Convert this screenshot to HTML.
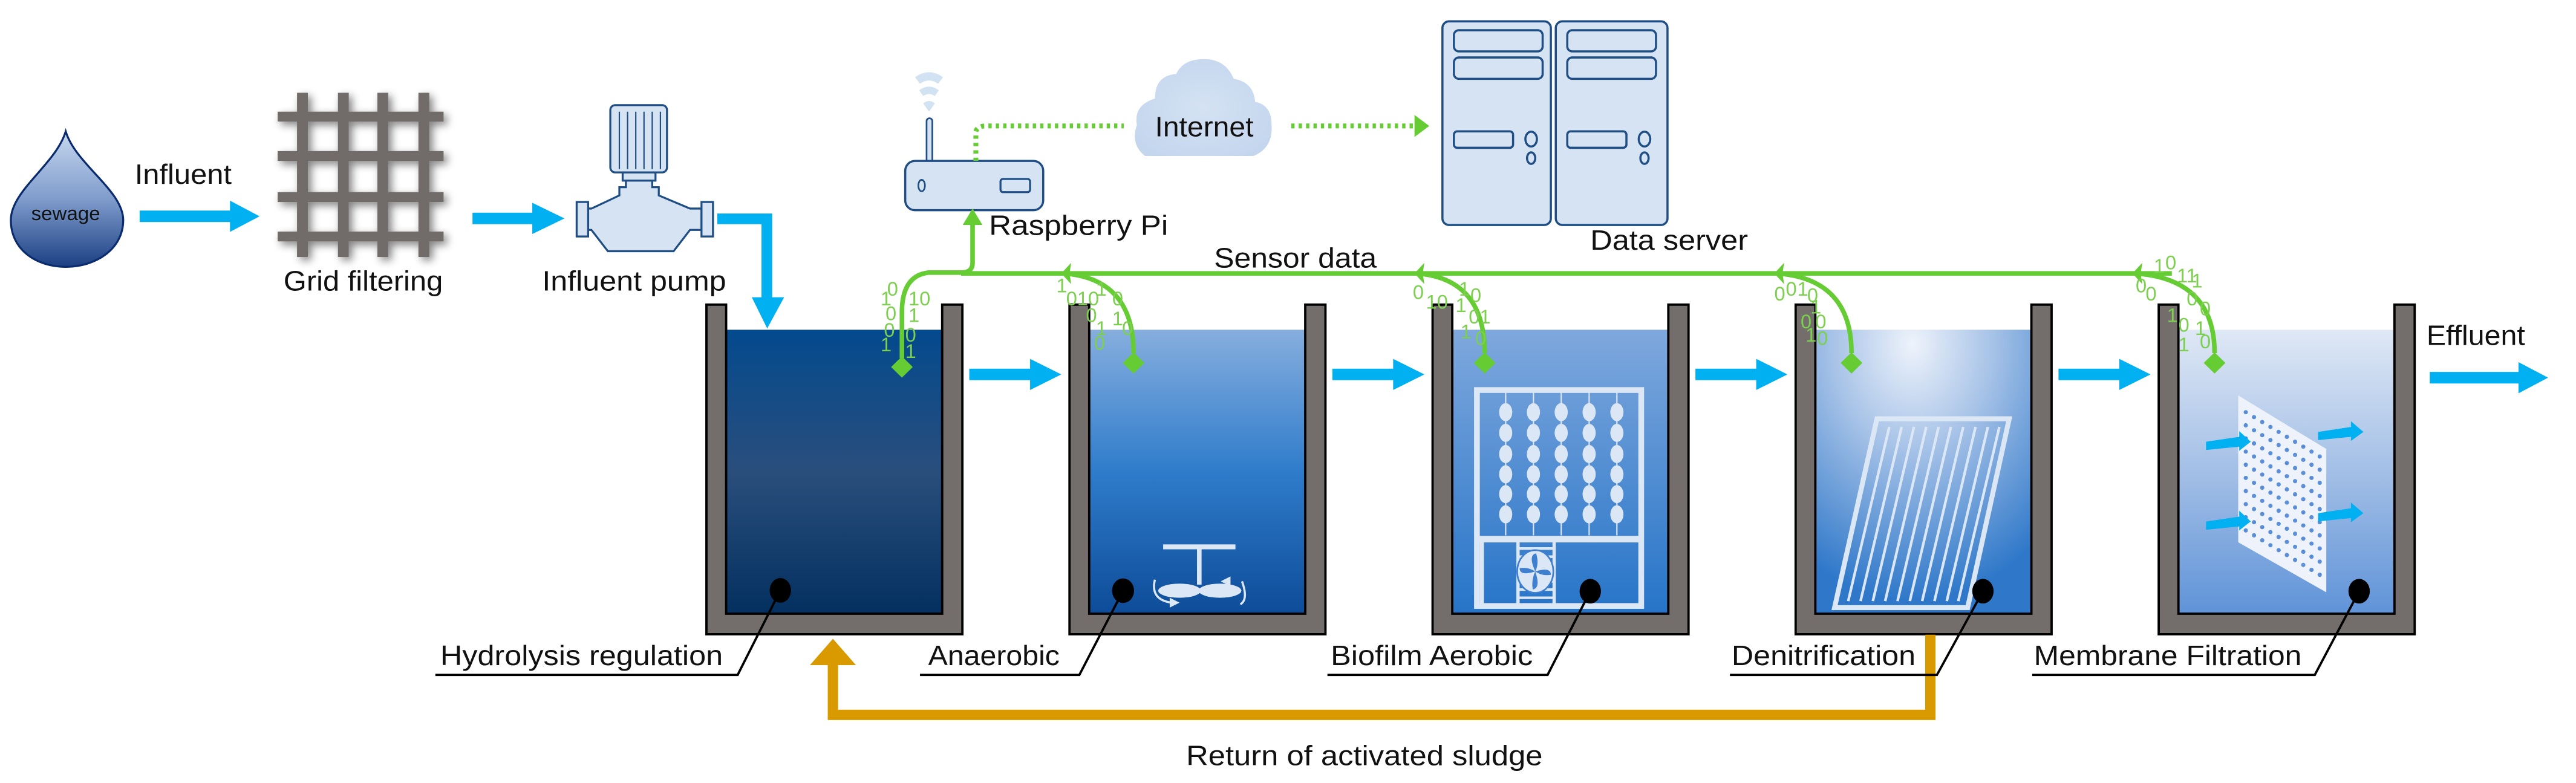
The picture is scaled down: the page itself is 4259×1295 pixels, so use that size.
<!DOCTYPE html>
<html><head><meta charset="utf-8"><style>
html,body{margin:0;padding:0;background:#fff;}
svg{display:block;}
text{font-family:"Liberation Sans",Arial,sans-serif;fill:#111;}
.b{font-size:12px;fill:#7ccf4f;}
</style></head><body>
<svg width="4259" height="1295" viewBox="0 0 1568 476.8" preserveAspectRatio="none" xmlns="http://www.w3.org/2000/svg">
<defs>
<linearGradient id="drop" x1="0" y1="0" x2="0" y2="1"><stop offset="0" stop-color="#c7d8ef"/><stop offset="0.5" stop-color="#7f9ccc"/><stop offset="1" stop-color="#1b3f82"/></linearGradient>
<linearGradient id="t1" x1="0" y1="0" x2="0" y2="1"><stop offset="0" stop-color="#034a8e"/><stop offset="0.5" stop-color="#2a4e7c"/><stop offset="1" stop-color="#03305f"/></linearGradient>
<linearGradient id="t2" x1="0" y1="0" x2="0" y2="1"><stop offset="0" stop-color="#86aede"/><stop offset="0.5" stop-color="#2f7ccb"/><stop offset="1" stop-color="#0d4c98"/></linearGradient>
<linearGradient id="t3" x1="0" y1="0" x2="0" y2="1"><stop offset="0" stop-color="#7fa8dd"/><stop offset="1" stop-color="#2674c8"/></linearGradient>
<radialGradient id="t4" cx="0.45" cy="0.05" r="0.9"><stop offset="0" stop-color="#eef3fb"/><stop offset="0.4" stop-color="#a9c4e8"/><stop offset="1" stop-color="#2f78c9"/></radialGradient>
<linearGradient id="t5" x1="0" y1="0" x2="0" y2="1"><stop offset="0" stop-color="#dfe8f5"/><stop offset="0.5" stop-color="#a3bfe6"/><stop offset="1" stop-color="#5f93d8"/></linearGradient>
<filter id="sh" x="-20%" y="-20%" width="140%" height="140%"><feGaussianBlur in="SourceAlpha" stdDeviation="2.5"/><feOffset dx="2" dy="2"/><feComponentTransfer><feFuncA type="linear" slope="0.5"/></feComponentTransfer><feMerge><feMergeNode/><feMergeNode in="SourceGraphic"/></feMerge></filter>
<radialGradient id="cl" cx="0.5" cy="0.5" r="0.6"><stop offset="0" stop-color="#d4e2f3"/><stop offset="1" stop-color="#c4d6ee"/></radialGradient>
</defs>

<path d="M40,80 C46,100 75,116 75,134 C75,152 58,162.5 40,162.5 C22,162.5 6.6,152 6.6,134 C6.6,116 34,100 40,80 Z" fill="url(#drop)" stroke="#0a2a6e" stroke-width="1.2"/>
<text x="40" y="134" font-size="12" text-anchor="middle" textLength="42" lengthAdjust="spacingAndGlyphs">sewage</text>
<text x="82" y="112" font-size="17" textLength="59" lengthAdjust="spacingAndGlyphs">Influent</text>
<polygon points="85,128.2 140,128.2 140,122.2 158,131.7 140,141.2 140,135.2 85,135.2" fill="#00b0f0"/>

<g fill="#716c6a" filter="url(#sh)">
<rect x="180.8" y="56.5" width="6.6" height="100"/><rect x="205.7" y="56.5" width="6.6" height="100"/><rect x="229.7" y="56.5" width="6.6" height="100"/><rect x="254.7" y="56.5" width="6.6" height="100"/>
<rect x="169" y="68" width="101" height="6"/><rect x="169" y="92" width="101" height="6"/><rect x="169" y="117" width="101" height="6"/><rect x="169" y="141" width="101" height="6"/>
</g>
<text x="172.6" y="177" font-size="17" textLength="97" lengthAdjust="spacingAndGlyphs">Grid filtering</text>
<polygon points="287.6,129.5 324,129.5 324,123.5 343.6,133 324,142.5 324,136.5 287.6,136.5" fill="#00b0f0"/>

<g fill="#d6e3f3" stroke="#1f4e84" stroke-width="1.2">
<rect x="371.5" y="64" width="34.5" height="41" rx="3"/>
<rect x="379" y="105" width="20" height="5"/>
<path d="M381,110 L397,110 L397,114 L401,114 L401,119 L420,127 L427,127 L427,140 L420,140 L410,153 L370,153 L360,140 L358,140 L358,127 L360,127 L377,119 L377,114 L381,114 Z"/>
<rect x="351" y="123" width="7" height="21"/><rect x="427" y="123" width="7" height="21"/>
</g>
<g stroke="#1f4e84" stroke-width="0.8"><line x1="377" y1="68" x2="377" y2="103"/><line x1="382" y1="68" x2="382" y2="103"/><line x1="387" y1="68" x2="387" y2="103"/><line x1="392" y1="68" x2="392" y2="103"/><line x1="397" y1="68" x2="397" y2="103"/><line x1="402" y1="68" x2="402" y2="103"/></g>
<text x="330" y="177" font-size="17" textLength="112" lengthAdjust="spacingAndGlyphs">Influent pump</text>
<polygon points="436.6,130 470,130 470,181 477.3,181 467,200 457.6,181 463.5,181 463.5,136.5 436.6,136.5" fill="#00b0f0"/>

<g fill="#cddff2" opacity="0.9"><path d="M557,47 Q565.5,41 574,47 L571,51 Q565.5,47 560,51 Z"/><path d="M559.5,55 Q565.5,50.5 571.5,55 L569,58.5 Q565.5,56 562,58.5 Z"/><path d="M562,63 Q565.5,60 569,63 L565.5,68 Z"/></g>
<rect x="564" y="72" width="3.5" height="27" rx="1.7" fill="#d6e3f3" stroke="#1f4e84" stroke-width="1"/>
<rect x="551" y="98" width="84" height="30" rx="6" fill="#d6e3f3" stroke="#1f4e84" stroke-width="1.3"/>
<ellipse cx="561" cy="113" rx="2" ry="3.5" fill="none" stroke="#1f4e84" stroke-width="1"/>
<rect x="609" y="109" width="18" height="8" rx="1.5" fill="none" stroke="#1f4e84" stroke-width="1.2"/>
<text x="602" y="143" font-size="17" textLength="109" lengthAdjust="spacingAndGlyphs">Raspberry Pi</text>

<path d="M594,98 L594,80 Q595,76.7 600,76.7 L684,76.7" fill="none" stroke="#66cc33" stroke-width="3" stroke-dasharray="2,2.5"/>
<path d="M786,76.7 L862,76.7" fill="none" stroke="#66cc33" stroke-width="3" stroke-dasharray="2,2.5"/>
<polygon points="861,70 870,76.7 861,83.4" fill="#66cc33"/>

<path d="M697,95 Q688,88 692,76 Q690,64 703,60 Q703,46 716,45 Q720,36 733,36 Q746,36 751,48 Q763,50 764,62 Q774,64 774,76 Q775,90 763,95 Z" fill="url(#cl)"/>
<text x="703" y="83" font-size="17" textLength="60" lengthAdjust="spacingAndGlyphs">Internet</text>

<g fill="#d6e3f3" stroke="#1f4e84" stroke-width="1.3">
<rect x="878" y="13" width="66" height="124" rx="4"/><rect x="947" y="13" width="68" height="124" rx="4"/>
<rect x="885" y="18.4" width="54" height="12.9" rx="3"/><rect x="885" y="35" width="54" height="13" rx="3"/>
<rect x="954" y="18.4" width="54" height="12.9" rx="3"/><rect x="954" y="35" width="54" height="13" rx="3"/>
<rect x="885" y="80" width="36" height="10" rx="2"/><rect x="954" y="80" width="36" height="10" rx="2"/>
<ellipse cx="932" cy="84.7" rx="3.5" ry="4.5"/><ellipse cx="932" cy="96.3" rx="2.5" ry="3.5"/>
<ellipse cx="1001" cy="84.7" rx="3.5" ry="4.5"/><ellipse cx="1001" cy="96.3" rx="2.5" ry="3.5"/>
</g>
<text x="968" y="152" font-size="17" textLength="96" lengthAdjust="spacingAndGlyphs">Data server</text>
<text x="739" y="163" font-size="17" textLength="99" lengthAdjust="spacingAndGlyphs">Sensor data</text>

<g>
<rect x="441.9" y="200.8" width="131.5" height="173" fill="url(#t1)"/>
<rect x="662.9" y="200.8" width="131.5" height="173" fill="url(#t2)"/>
<rect x="883.9" y="200.8" width="131.5" height="173" fill="url(#t3)"/>
<rect x="1104.9" y="200.8" width="131.5" height="173" fill="url(#t4)"/>
<rect x="1325.9" y="200.8" width="131.5" height="173" fill="url(#t5)"/>
</g>
<g fill="#736d6b" stroke="#000" stroke-width="1.4">
<path d="M430,185.5 L442,185.5 L442,373.7 L573.5,373.7 L573.5,185.5 L585.8,185.5 L585.8,386.2 L430,386.2 Z"/>
<path d="M651,185.5 L663,185.5 L663,373.7 L794.5,373.7 L794.5,185.5 L806.8,185.5 L806.8,386.2 L651,386.2 Z"/>
<path d="M872,185.5 L884,185.5 L884,373.7 L1015.5,373.7 L1015.5,185.5 L1027.8,185.5 L1027.8,386.2 L872,386.2 Z"/>
<path d="M1093,185.5 L1105,185.5 L1105,373.7 L1236.5,373.7 L1236.5,185.5 L1248.8,185.5 L1248.8,386.2 L1093,386.2 Z"/>
<path d="M1314,185.5 L1326,185.5 L1326,373.7 L1457.5,373.7 L1457.5,185.5 L1469.8,185.5 L1469.8,386.2 L1314,386.2 Z"/>
</g>

<g fill="#00b0f0">
<polygon points="590,224.5 627,224.5 627,218.5 646,228 627,237.5 627,231.5 590,231.5"/>
<polygon points="811,224.5 848,224.5 848,218.5 867,228 848,237.5 848,231.5 811,231.5"/>
<polygon points="1032,224.5 1069,224.5 1069,218.5 1088,228 1069,237.5 1069,231.5 1032,231.5"/>
<polygon points="1253,224.5 1290,224.5 1290,218.5 1309,228 1290,237.5 1290,231.5 1253,231.5"/>
<polygon points="1479,226.5 1533,226.5 1533,220.5 1551,230 1533,239.5 1533,233.5 1479,233.5"/>
</g>
<text x="1477" y="210" font-size="17" textLength="60" lengthAdjust="spacingAndGlyphs">Effluent</text>

<g fill="#dce7f5" stroke="none">
<rect x="708" y="331.5" width="44" height="3"/><rect x="728.6" y="333" width="2.8" height="23"/>
<ellipse cx="718" cy="359.7" rx="13" ry="4.3"/><ellipse cx="742.6" cy="359.7" rx="13" ry="4.3"/>
</g>
<path d="M703,353 Q700,365 713,367" fill="none" stroke="#dce7f5" stroke-width="1.3"/><polygon points="712,364 718,367 712,370" fill="#dce7f5"/>
<path d="M756,354 Q760,365 755,368" fill="none" stroke="#dce7f5" stroke-width="1.3"/><polygon points="749,351 743,354 749,357" fill="#dce7f5"/>

<g fill="none" stroke="#dce7f5">
<rect x="899" y="237.5" width="100" height="131.5" stroke-width="3.5"/>
<line x1="899" y1="328.3" x2="999" y2="328.3" stroke-width="4"/>
<line x1="902" y1="330" x2="902" y2="368" stroke-width="2.5"/>
<line x1="924" y1="330" x2="924" y2="368" stroke-width="2"/>
<line x1="946" y1="330" x2="946" y2="368" stroke-width="2"/>
</g>
<g stroke="#dce7f5" stroke-width="0.8">
<line x1="916.5" y1="239" x2="916.5" y2="326"/><line x1="933.4" y1="239" x2="933.4" y2="326"/><line x1="950.3" y1="239" x2="950.3" y2="326"/><line x1="967.3" y1="239" x2="967.3" y2="326"/><line x1="984.2" y1="239" x2="984.2" y2="326"/>
</g>
<g fill="#dce7f5">
<g id="col"><ellipse cx="916.5" cy="251" rx="4" ry="5.5"/><ellipse cx="916.5" cy="263.6" rx="4" ry="5.5"/><ellipse cx="916.5" cy="276.5" rx="4" ry="5.5"/><ellipse cx="916.5" cy="288.8" rx="4" ry="5.5"/><ellipse cx="916.5" cy="300.9" rx="4" ry="5.5"/><ellipse cx="916.5" cy="313.2" rx="4" ry="5.5"/></g>
<use href="#col" x="16.9"/><use href="#col" x="33.8"/><use href="#col" x="50.8"/><use href="#col" x="67.7"/>
</g>
<g stroke="#dce7f5" stroke-width="1.6"><line x1="924" y1="334" x2="946" y2="334"/><line x1="924" y1="339" x2="946" y2="339"/><line x1="924" y1="344" x2="946" y2="344"/><line x1="924" y1="349" x2="946" y2="349"/><line x1="924" y1="354" x2="946" y2="354"/><line x1="924" y1="359" x2="946" y2="359"/><line x1="924" y1="364" x2="946" y2="364"/></g>
<ellipse cx="934.5" cy="348" rx="11" ry="13" fill="#dce7f5" stroke="#3f7fcf" stroke-width="1"/>
<g fill="#3f7fcf"><path d="M934.5,348 Q930,338 935,337 Q937,343 934.5,348Z"/><path d="M934.5,348 Q944,345 944,350 Q939,351 934.5,348Z"/><path d="M934.5,348 Q938,358 933,359 Q932,353 934.5,348Z"/><path d="M934.5,348 Q925,351 925,346 Q930,345 934.5,348Z"/></g>

<path d="M1142.5,255 L1223,255 L1197.7,370 L1116.7,370 Z" fill="none" stroke="#dce7f5" stroke-width="3"/>
<g stroke="#dce7f5" stroke-width="1.6">
<line x1="1150" y1="260" x2="1125" y2="366"/><line x1="1157.5" y1="260" x2="1132.5" y2="366"/><line x1="1165" y1="260" x2="1140" y2="366"/><line x1="1172.5" y1="260" x2="1147.5" y2="366"/><line x1="1180" y1="260" x2="1155" y2="366"/><line x1="1187.5" y1="260" x2="1162.5" y2="366"/><line x1="1195" y1="260" x2="1170" y2="366"/><line x1="1202.5" y1="260" x2="1177.5" y2="366"/><line x1="1210" y1="260" x2="1185" y2="366"/><line x1="1217" y1="260" x2="1192" y2="366"/>
</g>

<polygon points="1362.4,240.8 1416,273.4 1416,360.7 1362.4,330.2" fill="#eef3fb"/>
<g fill="#5a8ed8">
<g id="mr"><circle cx="1367" cy="251" r="1.3"/><circle cx="1367" cy="259" r="1.3"/><circle cx="1367" cy="267" r="1.3"/><circle cx="1367" cy="275" r="1.3"/><circle cx="1367" cy="283" r="1.3"/><circle cx="1367" cy="291" r="1.3"/><circle cx="1367" cy="299" r="1.3"/><circle cx="1367" cy="307" r="1.3"/><circle cx="1367" cy="315" r="1.3"/><circle cx="1367" cy="323" r="1.3"/></g>
<use href="#mr" x="5" y="3"/><use href="#mr" x="10" y="6"/><use href="#mr" x="15" y="9"/><use href="#mr" x="20" y="12"/><use href="#mr" x="25" y="15"/><use href="#mr" x="30" y="18"/><use href="#mr" x="35" y="21"/><use href="#mr" x="40" y="24"/><use href="#mr" x="45" y="27"/>
</g>
<g fill="#00b0f0">
<polygon points="1342.8,269 1363,266 1363,262.5 1370,269 1363,274.5 1363,272 1342.8,274"/>
<polygon points="1342.8,317.6 1363,314.6 1363,311 1370,317.5 1363,323 1363,320.6 1342.8,322.6"/>
<polygon points="1411,263 1431,260 1431,256.5 1438.6,263 1431,268.5 1431,266 1411,268"/>
<polygon points="1411,312.5 1431,309.5 1431,306 1438.6,312.5 1431,318 1431,315.5 1411,317.5"/>
</g>

<g fill="#000"><ellipse cx="475" cy="359.5" rx="6.5" ry="7.5"/><ellipse cx="683.6" cy="359.7" rx="6.7" ry="7.5"/><ellipse cx="968" cy="360" rx="6.5" ry="7.5"/><ellipse cx="1207" cy="360" rx="6.5" ry="7.5"/><ellipse cx="1436" cy="360" rx="6.5" ry="7.5"/></g>
<g fill="none" stroke="#000" stroke-width="1.4">
<polyline points="475,359.5 449,411 265,411"/>
<polyline points="683.6,359.7 657,411 560,411"/>
<polyline points="968,360 942,411 808,411"/>
<polyline points="1436,360 1409,411 1237,411"/>
</g>

<path d="M1175,386.5 L1175,435.3 L507,435.3 L507,405" fill="none" stroke="#d99a00" stroke-width="6.3"/>
<polygon points="493,405 521,405 507,389" fill="#d99a00"/>
<polyline points="1207,360 1179,411 1053,411" fill="none" stroke="#000" stroke-width="1.4"/>

<text x="268" y="405" font-size="17" textLength="172" lengthAdjust="spacingAndGlyphs">Hydrolysis regulation</text>
<text x="565" y="405" font-size="17" textLength="80" lengthAdjust="spacingAndGlyphs">Anaerobic</text>
<text x="810" y="405" font-size="17" textLength="123" lengthAdjust="spacingAndGlyphs">Biofilm Aerobic</text>
<text x="1054" y="405" font-size="17" textLength="112" lengthAdjust="spacingAndGlyphs">Denitrification</text>
<text x="1238" y="405" font-size="17" textLength="163" lengthAdjust="spacingAndGlyphs">Membrane Filtration</text>
<text x="722" y="466" font-size="17" textLength="217" lengthAdjust="spacingAndGlyphs">Return of activated sludge</text>

<g fill="none" stroke="#66cc33" stroke-width="2.8">
<path d="M592,130 L592,160 Q592,166 585,166 L565,166 Q549,168 549,190 L549,218"/>
<line x1="585" y1="166.5" x2="1322" y2="166.5"/>
<path d="M648,166.5 Q690,170 690,215"/>
<path d="M863,166.5 Q903.7,170 903.7,215"/>
<path d="M1082,166.5 Q1127,170 1127,215"/>
<path d="M1300,166.5 Q1348,170 1348,215"/>
</g>
<polygon points="586,137 592,127 598,137" fill="#66cc33"/>
<g fill="#66cc33">
<polygon points="549,217 555.6,223.5 549,230 542.4,223.5"/>
<polygon points="690,214.5 696.6,221 690,227.5 683.4,221"/>
<polygon points="903.7,214.5 910.3,221 903.7,227.5 897.1,221"/>
<polygon points="1127,214.5 1133.6,221 1127,227.5 1120.4,221"/>
<polygon points="1348,214.5 1354.6,221 1348,227.5 1341.4,221"/>
<polygon points="646,166.5 652,160 651,166.5 652,173"/>
<polygon points="861,166.5 867,160 866,166.5 867,173"/>
<polygon points="1080,166.5 1086,160 1085,166.5 1086,173"/>
<polygon points="1298,166.5 1304,160 1303,166.5 1304,173"/>
</g>
<text class="b" x="536" y="186">1</text><text class="b" x="540" y="180">0</text><text class="b" x="553" y="186">10</text><text class="b" x="539" y="195">0</text><text class="b" x="553" y="196">1</text><text class="b" x="538" y="205">0</text><text class="b" x="551" y="208">0</text><text class="b" x="536" y="214">1</text><text class="b" x="551" y="218">1</text>
<text class="b" x="643" y="178">1</text><text class="b" x="649" y="186">010</text><text class="b" x="667" y="180">1</text><text class="b" x="677" y="186">0</text><text class="b" x="661" y="196">0</text><text class="b" x="677" y="198">1</text><text class="b" x="683" y="204">0</text><text class="b" x="667" y="204">1</text><text class="b" x="666" y="213">0</text>
<text class="b" x="860" y="182">0</text><text class="b" x="868" y="188">10</text><text class="b" x="888" y="180">1</text><text class="b" x="895" y="184">0</text><text class="b" x="886" y="190">1</text><text class="b" x="894" y="197">01</text><text class="b" x="889" y="206">1</text><text class="b" x="898" y="210">0</text>
<text class="b" x="1080" y="183">0</text><text class="b" x="1087" y="180">0</text><text class="b" x="1094" y="180">1</text><text class="b" x="1100" y="184">0</text><text class="b" x="1102" y="191">1</text><text class="b" x="1096" y="200">0</text><text class="b" x="1105" y="200">0</text><text class="b" x="1099" y="208">1</text><text class="b" x="1106" y="210">0</text>
<text class="b" x="1300" y="178">0</text><text class="b" x="1306" y="183">0</text><text class="b" x="1311" y="166">1</text><text class="b" x="1318" y="164">0</text><text class="b" x="1325" y="172">11</text><text class="b" x="1334" y="175">1</text><text class="b" x="1331" y="186">0</text><text class="b" x="1339" y="192">0</text><text class="b" x="1319" y="196">1</text><text class="b" x="1326" y="202">0</text><text class="b" x="1336" y="204">1</text><text class="b" x="1339" y="212">0</text><text class="b" x="1326" y="214">1</text>
</svg>
</body></html>
